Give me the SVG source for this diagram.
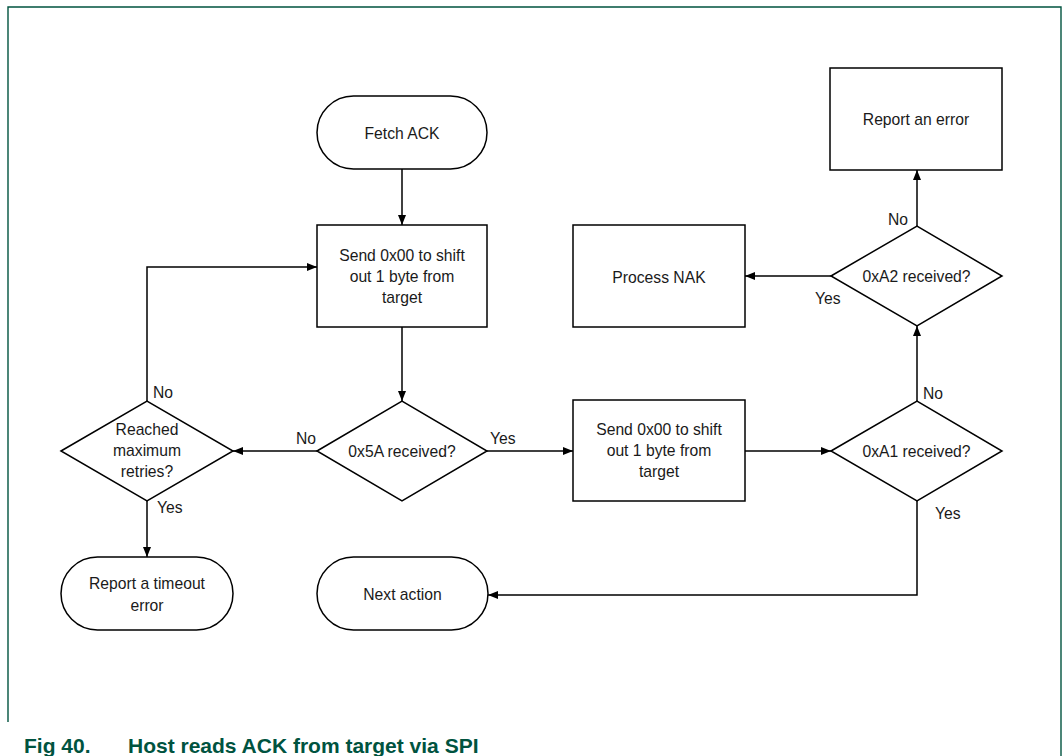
<svg xmlns="http://www.w3.org/2000/svg" width="1063" height="756" viewBox="0 0 1063 756">
<style>
.n{fill:#fff;stroke:#000;stroke-width:1.5}
.t{font-family:"Liberation Sans",Arial,sans-serif;font-size:15.7px;fill:#1a1a1a;text-anchor:middle}
.l{font-family:"Liberation Sans",Arial,sans-serif;font-size:15.7px;fill:#1a1a1a}
.c{fill:none;stroke:#000;stroke-width:1.5}
.cap{font-family:"Liberation Sans",Arial,sans-serif;font-size:21px;font-weight:bold;fill:#00533f}
</style>
<defs>
<marker id="ah" markerUnits="userSpaceOnUse" markerWidth="10" markerHeight="10" viewBox="0 0 10 10" refX="10" refY="5" orient="auto">
<path d="M0,1 L10,5 L0,9 Z" fill="#000"/>
</marker>
</defs>
<rect width="1063" height="756" fill="#fff"/>
<g id="frame" fill="none" stroke="#00533f" stroke-width="1.4">
<path d="M8,722 V7 H1061 V756"/>
</g>
<g id="caption">
<text class="cap" x="24" y="753">Fig 40.</text>
<text class="cap" x="128" y="753">Host reads ACK from target via SPI</text>
</g>
<g id="connectors">
<path class="c" d="M402,169 V225" marker-end="url(#ah)"/>
<path class="c" d="M402,327 V401" marker-end="url(#ah)"/>
<path class="c" d="M317,451 H233" marker-end="url(#ah)"/>
<path class="c" d="M487,451 H573" marker-end="url(#ah)"/>
<path class="c" d="M147,401 V267 H317" marker-end="url(#ah)"/>
<path class="c" d="M147,501 V557" marker-end="url(#ah)"/>
<path class="c" d="M745,451 H831" marker-end="url(#ah)"/>
<path class="c" d="M917,401 V326" marker-end="url(#ah)"/>
<path class="c" d="M917,501 V595 H488" marker-end="url(#ah)"/>
<path class="c" d="M831,276 H745" marker-end="url(#ah)"/>
<path class="c" d="M917,226 V170" marker-end="url(#ah)"/>
<text class="l" x="153" y="397.5">No</text>
<text class="l" x="157" y="512.5">Yes</text>
<text class="l" x="296" y="443.5">No</text>
<text class="l" x="490" y="443.5">Yes</text>
<text class="l" x="923" y="398.5">No</text>
<text class="l" x="935" y="518.5">Yes</text>
<text class="l" x="815" y="303.5">Yes</text>
<text class="l" x="888" y="224.5">No</text>
</g>
<g id="fetch">
<rect class="n" x="317" y="96" width="170" height="73" rx="36.5"/>
<text class="t" x="402" y="138.5">Fetch ACK</text>
</g>
<g id="send1">
<rect class="n" x="317" y="225" width="170" height="102"/>
<text class="t" x="402" y="260.5">Send 0x00 to shift</text>
<text class="t" x="402" y="281.5">out 1 byte from</text>
<text class="t" x="402" y="302.5">target</text>
</g>
<g id="d5a">
<polygon class="n" points="317,451 402,401 487,451 402,501"/>
<text class="t" x="402" y="456.5">0x5A received?</text>
</g>
<g id="reached">
<polygon class="n" points="61,451 147,401 233,451 147,501"/>
<text class="t" x="147" y="435">Reached</text>
<text class="t" x="147" y="456">maximum</text>
<text class="t" x="147" y="477">retries?</text>
</g>
<g id="timeout">
<rect class="n" x="61" y="557" width="172" height="73" rx="36.5"/>
<text class="t" x="147" y="588.5">Report a timeout</text>
<text class="t" x="147" y="610.5">error</text>
</g>
<g id="next">
<rect class="n" x="317" y="557" width="171" height="73" rx="36.5"/>
<text class="t" x="402.5" y="599.5">Next action</text>
</g>
<g id="send2">
<rect class="n" x="573" y="400" width="172" height="101"/>
<text class="t" x="659" y="434.5">Send 0x00 to shift</text>
<text class="t" x="659" y="455.5">out 1 byte from</text>
<text class="t" x="659" y="476.5">target</text>
</g>
<g id="a1">
<polygon class="n" points="831,451 917,401 1002,451 917,501"/>
<text class="t" x="916.5" y="456.5">0xA1 received?</text>
</g>
<g id="a2">
<polygon class="n" points="831,276 917,226 1002,276 917,326"/>
<text class="t" x="916.5" y="281.5">0xA2 received?</text>
</g>
<g id="nak">
<rect class="n" x="573" y="225" width="172" height="102"/>
<text class="t" x="659" y="282.5">Process NAK</text>
</g>
<g id="error">
<rect class="n" x="830" y="68" width="172" height="102"/>
<text class="t" x="916" y="124.5">Report an error</text>
</g>
</svg>
